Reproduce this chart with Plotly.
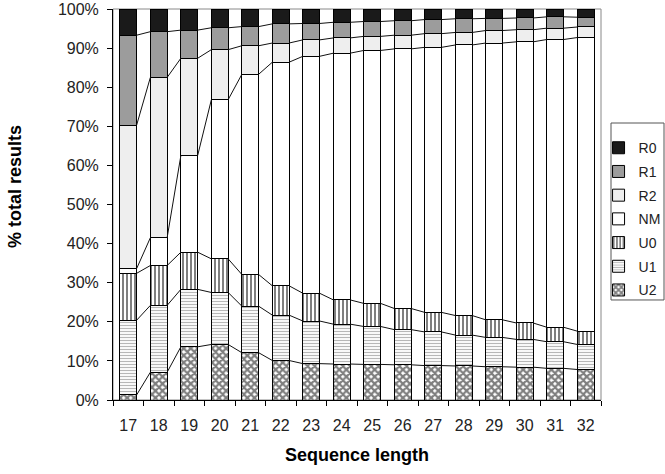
import plotly.graph_objects as go

lengths = [17, 18, 19, 20, 21, 22, 23, 24, 25, 26, 27, 28, 29, 30, 31, 32]
u2 = [1.3, 7.1, 13.6, 14.2, 12.1, 10.1, 9.3, 9.2, 9.1, 9.0, 8.8, 8.7, 8.5, 8.4, 8.1, 7.8]
u1 = [19.1, 17.1, 14.7, 13.3, 11.9, 11.6, 10.9, 10.2, 9.7, 9.0, 8.6, 7.9, 7.5, 7.1, 6.8, 6.4]
u0 = [12.0, 10.2, 9.5, 8.6, 8.1, 7.5, 7.1, 6.2, 5.9, 5.4, 5.0, 5.0, 4.5, 4.2, 3.7, 3.4]
nm = [1.2, 7.1, 24.7, 40.7, 51.2, 57.2, 60.6, 63.1, 64.7, 66.4, 67.8, 69.2, 70.8, 71.9, 73.6, 75.1]
r2 = [36.7, 41.0, 24.9, 12.8, 7.3, 4.9, 4.2, 3.9, 3.6, 3.5, 3.5, 3.2, 3.2, 3.1, 2.9, 2.7]
r1 = [23.0, 11.7, 7.2, 5.6, 4.9, 4.9, 4.2, 4.0, 3.8, 3.7, 3.6, 3.5, 3.1, 3.0, 2.9, 2.5]
r0 = [6.7, 5.8, 5.4, 4.8, 4.5, 3.8, 3.7, 3.4, 3.2, 3.0, 2.7, 2.5, 2.4, 2.3, 2.0, 2.1]
y_ticks = [0, 10, 20, 30, 40, 50, 60, 70, 80, 90, 100]

series = [
    ("U2", u2, "white", dict(shape="x", size=5, solidity=0.7, fgcolor="black", bgcolor="white")),
    ("U1", u1, "white", dict(shape="-", size=3, solidity=0.4, fgcolor="#707070", bgcolor="white")),
    ("U0", u0, "white", dict(shape="|", size=4, solidity=0.5, fgcolor="black", bgcolor="white")),
    ("NM", nm, "white", None),
    ("R2", r2, "#eeeeee", None),
    ("R1", r1, "#9c9c9c", None),
    ("R0", r0, "#1a1a1a", None),
]

BW = 0.55
fig = go.Figure()

totals = [sum(v) for v in zip(*[s[1] for s in series])]
cum = [0.0] * len(lengths)
line_x, line_y = [], []
for k, (name, vals, color, pat) in enumerate(series):
    pct = [v / t * 100 for v, t in zip(vals, totals)]
    marker = dict(color=color, line=dict(color="black", width=1))
    if pat:
        marker["pattern"] = pat
    fig.add_trace(go.Bar(x=lengths, y=pct, name=name, legendgroup=name,
                         legendrank=1000 - k, width=BW, marker=marker))
    cum = [c + p for c, p in zip(cum, pct)]
    if name != "R0":
        for i in range(len(lengths) - 1):
            line_x += [lengths[i] + BW / 2, lengths[i + 1] - BW / 2, None]
            line_y += [cum[i], cum[i + 1], None]

fig.add_trace(go.Scatter(x=line_x, y=line_y, mode="lines", line=dict(color="#111", width=1),
                         showlegend=False, hoverinfo="skip"))

boundaries = [l - 0.5 for l in lengths] + [lengths[-1] + 0.5]

fig.update_layout(
    barmode="stack",
    width=665, height=474,
    margin=dict(l=113, r=64, t=9, b=74, autoexpand=False),
    paper_bgcolor="white", plot_bgcolor="white",
    font=dict(family="Liberation Sans, Arial, sans-serif", color="#222", size=14),
    showlegend=True,
    legend=dict(traceorder="grouped", x=0.995, y=0.685, xanchor="left", yanchor="top",
                borderwidth=0, bgcolor="rgba(0,0,0,0)", tracegroupgap=2.5,
                font=dict(size=14, color="#222"), itemwidth=30),
    xaxis=dict(range=[lengths[0] - 0.5, lengths[-1] + 0.5], tickvals=lengths,
               ticktext=[str(l) for l in lengths], ticks="", showgrid=False, zeroline=False,
               showline=True, linecolor="black", linewidth=1, ticklabelstandoff=11,
               tickfont=dict(size=16), automargin=False,
               minor=dict(tickvals=boundaries, ticks="outside", ticklen=5, tickcolor="black", showgrid=False)),
    yaxis=dict(range=[0, 100], tickvals=y_ticks, ticktext=[f"{t}%" for t in y_ticks],
               ticks="outside", ticklen=5, tickcolor="black", showgrid=False, zeroline=False,
               showline=True, linecolor="black", linewidth=1, tickfont=dict(size=16),
               ticklabelstandoff=5, automargin=False),
    shapes=[
        dict(type="rect", xref="paper", yref="paper", x0=0, x1=1, y0=0, y1=1,
             line=dict(color="#888", width=1), layer="below"),
        dict(type="rect", xref="paper", yref="paper", x0=1.0205, x1=1.1291, y0=0.2558, y1=0.7084,
             line=dict(color="#555", width=1), fillcolor="rgba(0,0,0,0)", layer="below"),
    ],
    annotations=[
        dict(text="<b>% total results</b>", xref="paper", yref="paper", x=-0.2008, y=0.545,
             xanchor="center", yanchor="middle", textangle=-90, showarrow=False,
             font=dict(size=18, color="black")),
        dict(text="<b>Sequence length</b>", xref="paper", yref="paper", x=0.5, y=-0.1407,
             xanchor="center", yanchor="middle", showarrow=False,
             font=dict(size=18, color="black")),
    ],
)

fig.write_html("out.html", config={"displayModeBar": False},
               post_script="document.body.style.margin='0';document.body.style.padding='0';")
